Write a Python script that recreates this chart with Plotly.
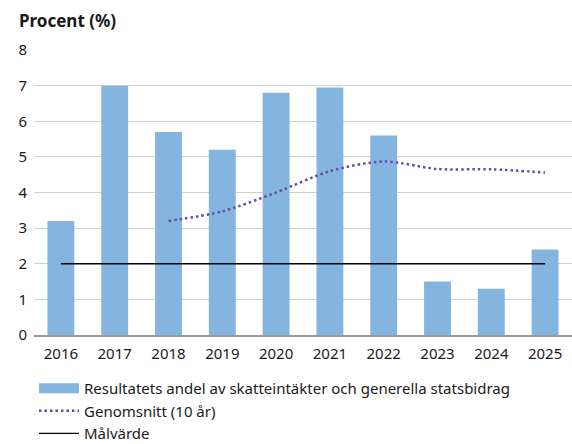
import plotly.graph_objects as go

years = ["2016", "2017", "2018", "2019", "2020", "2021", "2022", "2023", "2024", "2025"]
result_share = [3.2, 7.0, 5.7, 5.2, 6.8, 6.95, 5.6, 1.5, 1.3, 2.4]
avg_years = ["2018", "2019", "2020", "2021", "2022", "2023", "2024", "2025"]
avg_10y = [3.2, 3.47, 4.0, 4.6, 4.87, 4.66, 4.65, 4.56]
target_years = ["2016", "2025"]
target = [2, 2]
y_ticks = [0, 1, 2, 3, 4, 5, 6, 7, 8]

FONT = "Noto Sans"
TXT = "#1a1a1a"
BAR = "#84b5e0"
BAR_NAME = "Resultatets andel av skatteintäkter och generella statsbidrag"

fig = go.Figure()
fig.add_trace(go.Bar(
    x=years, y=result_share, name=BAR_NAME, showlegend=False, legendgroup="bar",
    marker=dict(color=BAR, line=dict(width=0)), width=0.5,
))
# legend proxy so the bar swatch is a wide rectangle like the reference
fig.add_trace(go.Scatter(
    x=[None], y=[None], name=BAR_NAME, mode="lines", legendgroup="bar",
    line=dict(color=BAR, width=10),
))
fig.add_trace(go.Scatter(
    x=avg_years, y=avg_10y, name="Genomsnitt (10 år)", mode="lines",
    line=dict(color="#6a4a9e", width=2.5, dash="2.5px,3px", shape="spline", smoothing=0.8),
))
fig.add_trace(go.Scatter(
    x=target_years, y=target, name="Målvärde", mode="lines",
    line=dict(color="#000000", width=1.3),
))

fig.update_layout(
    width=572, height=444,
    margin=dict(l=33.5, r=0, t=50, b=109, autoexpand=False),
    plot_bgcolor="white", paper_bgcolor="white",
    font=dict(family=FONT, size=15, color=TXT),
    showlegend=True,
    legend=dict(
        x=0.0, xanchor="left", y=-0.13, yanchor="top",
        font=dict(family=FONT, size=15, color=TXT),
        traceorder="normal", itemwidth=40, tracegroupgap=0,
        bgcolor="rgba(0,0,0,0)",
    ),
    bargap=0.5,
)
fig.update_xaxes(
    type="category", categoryorder="array", categoryarray=years,
    showgrid=False, showline=True, linecolor="#9a9a9a", linewidth=2,
    ticks="", tickfont=dict(family=FONT, size=15, color=TXT), automargin=False,
    ticklabelstandoff=4,
)
fig.update_yaxes(
    range=[0, 8], tickvals=y_ticks, showgrid=True, gridcolor="#d0d0d0", gridwidth=1.2,
    zeroline=False, ticks="", tickfont=dict(family=FONT, size=15, color=TXT),
    ticklabelstandoff=6, automargin=False,
)
fig.add_annotation(
    text="<b>Procent (%)</b>", xref="paper", yref="paper", x=-0.031, y=1.105,
    xanchor="left", yanchor="middle", showarrow=False,
    font=dict(family=FONT, size=17, color=TXT),
)
fig.write_html(
    "out.html",
    config={"displayModeBar": False},
    post_script="document.body.style.margin='0px';document.body.style.overflow='hidden';",
)
